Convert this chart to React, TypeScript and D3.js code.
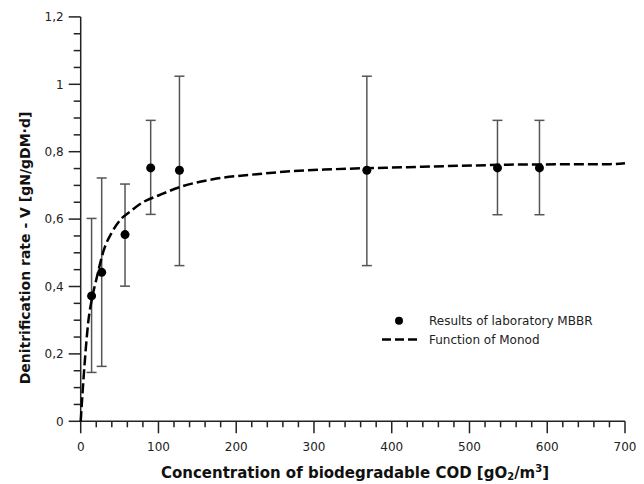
import React from 'react';
import * as d3 from 'd3';

// measured points: COD concentration, mean rate, and error bar limits
const codValues = [14, 27, 57, 90, 127, 368, 536, 590];
const rateValues = [0.372, 0.442, 0.554, 0.752, 0.745, 0.745, 0.752, 0.752];
const rateHigh = [0.602, 0.722, 0.704, 0.893, 1.024, 1.024, 0.893, 0.893];
const rateLow = [0.145, 0.163, 0.401, 0.614, 0.462, 0.462, 0.613, 0.613];

// Monod curve
const monodCod = [0, 5, 10, 15, 20, 30, 40, 50, 65, 80, 100, 130, 170, 235, 270, 325, 420, 485, 570, 680, 700];
const monodRate = [0, 0.17, 0.3, 0.37, 0.42, 0.51, 0.56, 0.595, 0.625, 0.65, 0.67, 0.697, 0.718, 0.735, 0.742, 0.748, 0.754, 0.758, 0.762, 0.763, 0.766];

const xMajorTicks = [0, 100, 200, 300, 400, 500, 600, 700];
const yMajorTicks = [0, 0.2, 0.4, 0.6, 0.8, 1, 1.2];

const width = 644;
const height = 484;
const font = '"DejaVu Sans", Verdana, sans-serif';

export default function App() {
  const x = d3.scaleLinear().domain([0, 700]).range([80.7, 625]);
  const y = d3.scaleLinear().domain([0, 1.2]).range([421.3, 16.9]);

  const xMinor = d3.range(0, 701, 20).filter(v => v % 100 !== 0);
  const yMinor = d3.range(0, 24).map(i => i * 0.05).filter((v, i) => i % 4 !== 0);

  const line = d3.line<number>()
    .x((d, i) => x(monodCod[i]))
    .y(d => y(d))
    .curve(d3.curveMonotoneX);

  const fmt = (v: number) => String(+v.toFixed(1)).replace('.', ',');

  return (
    <svg width={width} height={height} style={{ position: 'absolute', left: 0, top: 0, background: '#fff' }}>
      {/* axes */}
      <g stroke="#222" strokeWidth={1.5} fill="none">
        <line x1={x(0)} x2={x(700)} y1={y(0)} y2={y(0)} />
        <line x1={x(0)} x2={x(0)} y1={y(0)} y2={y(1.2)} />
        {xMajorTicks.map(v => (
          <line key={'xm' + v} x1={x(v)} x2={x(v)} y1={y(0)} y2={y(0) + 12} />
        ))}
        {xMinor.map(v => (
          <line key={'xn' + v} x1={x(v)} x2={x(v)} y1={y(0)} y2={y(0) + 6} />
        ))}
        {yMajorTicks.map(v => (
          <line key={'ym' + v} x1={x(0) - 12} x2={x(0)} y1={y(v)} y2={y(v)} />
        ))}
        {yMinor.map(v => (
          <line key={'yn' + v} x1={x(0) - 7} x2={x(0)} y1={y(v)} y2={y(v)} />
        ))}
      </g>
      <g fontFamily={font} fontSize={12} fill="#222">
        {xMajorTicks.map(v => (
          <text key={'xl' + v} x={x(v)} y={451} textAnchor="middle">{v}</text>
        ))}
        {yMajorTicks.map(v => (
          <text key={'yl' + v} x={x(0) - 17} y={y(v)} dy="0.35em" textAnchor="end">{fmt(v)}</text>
        ))}
      </g>
      {/* axis titles */}
      <text x={355} y={478} textAnchor="middle" fontFamily={font} fontWeight="bold" fontSize={15} fill="#111">
        Concentration of biodegradable COD [gO<tspan fontSize={10} dy={2}>2</tspan><tspan dy={-2}>/m</tspan><tspan fontSize={10} dy={-6}>3</tspan><tspan dy={6}>]</tspan>
      </text>
      <text transform="translate(30,248) rotate(-90)" textAnchor="middle" fontFamily={font} fontWeight="bold" fontSize={14} fill="#111">
        Denitrification rate - V [gN/gDM·d]
      </text>
      {/* error bars */}
      <g stroke="#555" strokeWidth={1.5}>
        {codValues.map((c, i) => (
          <g key={'e' + i}>
            <line x1={x(c)} x2={x(c)} y1={y(rateLow[i])} y2={y(rateHigh[i])} />
            <line x1={x(c) - 5} x2={x(c) + 5} y1={y(rateLow[i])} y2={y(rateLow[i])} />
            <line x1={x(c) - 5} x2={x(c) + 5} y1={y(rateHigh[i])} y2={y(rateHigh[i])} />
          </g>
        ))}
      </g>
      {/* Monod function */}
      <path d={line(monodRate) || ''} fill="none" stroke="#000" strokeWidth={2.5} strokeDasharray="10 4" />
      {/* points */}
      <g fill="#000">
        {codValues.map((c, i) => (
          <circle key={'p' + i} cx={x(c)} cy={y(rateValues[i])} r={4.5} />
        ))}
      </g>
      {/* legend */}
      <circle cx={399} cy={320.7} r={4} fill="#000" />
      <line x1={382} x2={418} y1={339.5} y2={339.5} stroke="#000" strokeWidth={2.5} strokeDasharray="9 4" />
      <g fontFamily={font} fontSize={12} fill="#222">
        <text x={429} y={325}>Results of laboratory MBBR</text>
        <text x={429} y={344}>Function of Monod</text>
      </g>
    </svg>
  );
}
